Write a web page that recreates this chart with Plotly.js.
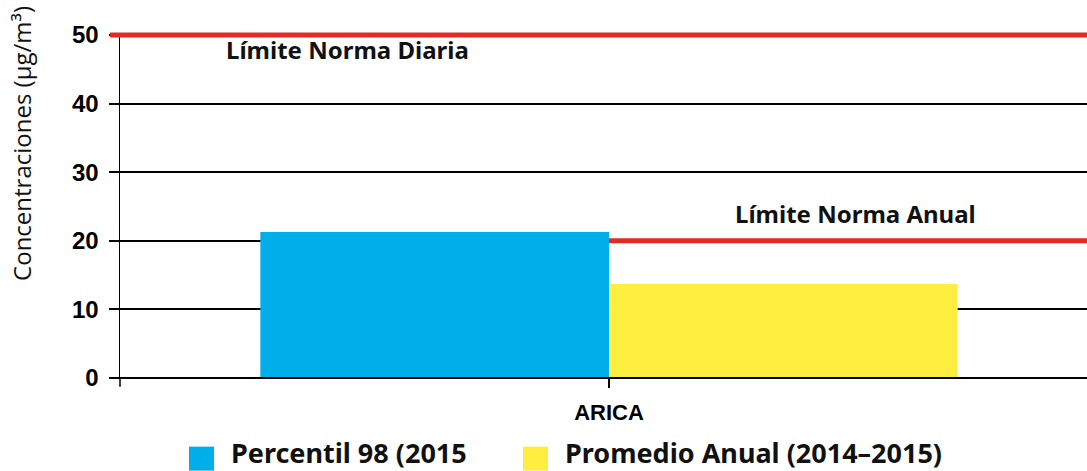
<!DOCTYPE html>
<html><head><meta charset="utf-8">
<script src="https://cdn.plot.ly/plotly-3.0.1.min.js"></script>
<style>html,body{margin:0;padding:0;background:#fff}#c{width:1087px;height:471px}</style>
</head><body><div id="c"></div>
<script>
const categories = ['ARICA'];
const seriesNames = ['Percentil 98 (2015', 'Promedio Anual (2014–2015)'];
const percentil98 = [21.3];
const promedioAnual = [13.7];
const limiteDiaria = 50;
const limiteAnual = 20;
const yTicks = [0, 10, 20, 30, 40, 50];
const colors = ['#00AEEA', '#FFEE40'];

const L = 120, W = 967, T = 35, H = 343.3;
const px = x => (x - L) / W;
const py = y => (T + H - y) / H;
const xMax = 0.4887;

const traces = [
  {type: 'bar', x: categories, y: percentil98, name: seriesNames[0], marker: {color: colors[0]}, showlegend: false, hoverinfo: 'none'},
  {type: 'bar', x: categories, y: promedioAnual, name: seriesNames[1], marker: {color: colors[1]}, showlegend: false, hoverinfo: 'none'}
];

const annFont = {family: 'Noto Sans', size: 24, color: '#111'};
const legFont = {family: 'Noto Sans', size: 27, color: '#111'};

const layout = {
  width: 1087, height: 471,
  margin: {l: L, r: 0, t: T, b: 471 - T - H},
  paper_bgcolor: '#fff', plot_bgcolor: '#fff',
  barmode: 'group', bargap: 0.287, bargroupgap: 0,
  showlegend: false,
  xaxis: {
    type: 'category', range: [-0.5, xMax],
    showgrid: false, zeroline: false, showline: false,
    ticks: 'outside', ticklen: 9, tickwidth: 1.5, tickcolor: '#000',
    ticklabelstandoff: 6,
    tickfont: {family: 'Liberation Sans', size: 22, color: '#000', weight: 'bold'},
    fixedrange: true
  },
  yaxis: {
    range: [0, 50], tickvals: yTicks, ticktext: yTicks.map(String),
    showgrid: true, gridcolor: '#000', gridwidth: 2,
    zeroline: false, showline: true, linecolor: '#000', linewidth: 1.5,
    ticks: 'outside', ticklen: 10, tickwidth: 2, tickcolor: '#000',
    ticklabelstandoff: 5,
    tickfont: {family: 'Liberation Sans', size: 24, color: '#000', weight: 'bold'},
    fixedrange: true
  },
  shapes: [
    {type: 'line', xref: 'paper', yref: 'paper', x0: px(110), x1: 1, y0: 0, y1: 0, line: {color: '#000', width: 2}},
    {type: 'line', xref: 'paper', yref: 'paper', x0: 0, x1: 0, y0: 0, y1: py(387), line: {color: '#000', width: 1.5}},
    {type: 'line', xref: 'paper', yref: 'paper', x0: px(110), x1: 1, y0: 1, y1: 1, line: {color: '#E32B26', width: 5}},
    {type: 'line', xref: 'x', yref: 'y', x0: 0, x1: xMax, y0: limiteAnual, y1: limiteAnual, line: {color: '#E32B26', width: 5}},
    {type: 'rect', xref: 'paper', yref: 'paper', x0: px(189), x1: px(214), y0: py(471), y1: py(447), fillcolor: colors[0], line: {width: 0}},
    {type: 'rect', xref: 'paper', yref: 'paper', x0: px(523), x1: px(548), y0: py(471), y1: py(447), fillcolor: colors[1], line: {width: 0}}
  ],
  annotations: [
    {text: 'Concentraciones (μg/m³)', xref: 'paper', yref: 'paper', x: px(22), y: py(144), xanchor: 'center', yanchor: 'middle', textangle: -90, showarrow: false, font: {family: 'Open Sans', size: 24, color: '#111'}},
    {text: '<b>Límite Norma Diaria</b>', xref: 'paper', yref: 'paper', x: px(347), y: py(50), xanchor: 'center', yanchor: 'middle', showarrow: false, font: annFont},
    {text: '<b>Límite Norma Anual</b>', xref: 'paper', yref: 'paper', x: px(855), y: py(214), xanchor: 'center', yanchor: 'middle', showarrow: false, font: annFont},
    {text: '<b>' + seriesNames[0] + '</b>', xref: 'paper', yref: 'paper', x: px(229), y: py(453), xanchor: 'left', yanchor: 'middle', showarrow: false, font: legFont},
    {text: '<b>' + seriesNames[1] + '</b>', xref: 'paper', yref: 'paper', x: px(563), y: py(453), xanchor: 'left', yanchor: 'middle', showarrow: false, font: legFont}
  ]
};

Plotly.newPlot('c', traces, layout, {displayModeBar: false, staticPlot: true});
</script>
</body></html>
